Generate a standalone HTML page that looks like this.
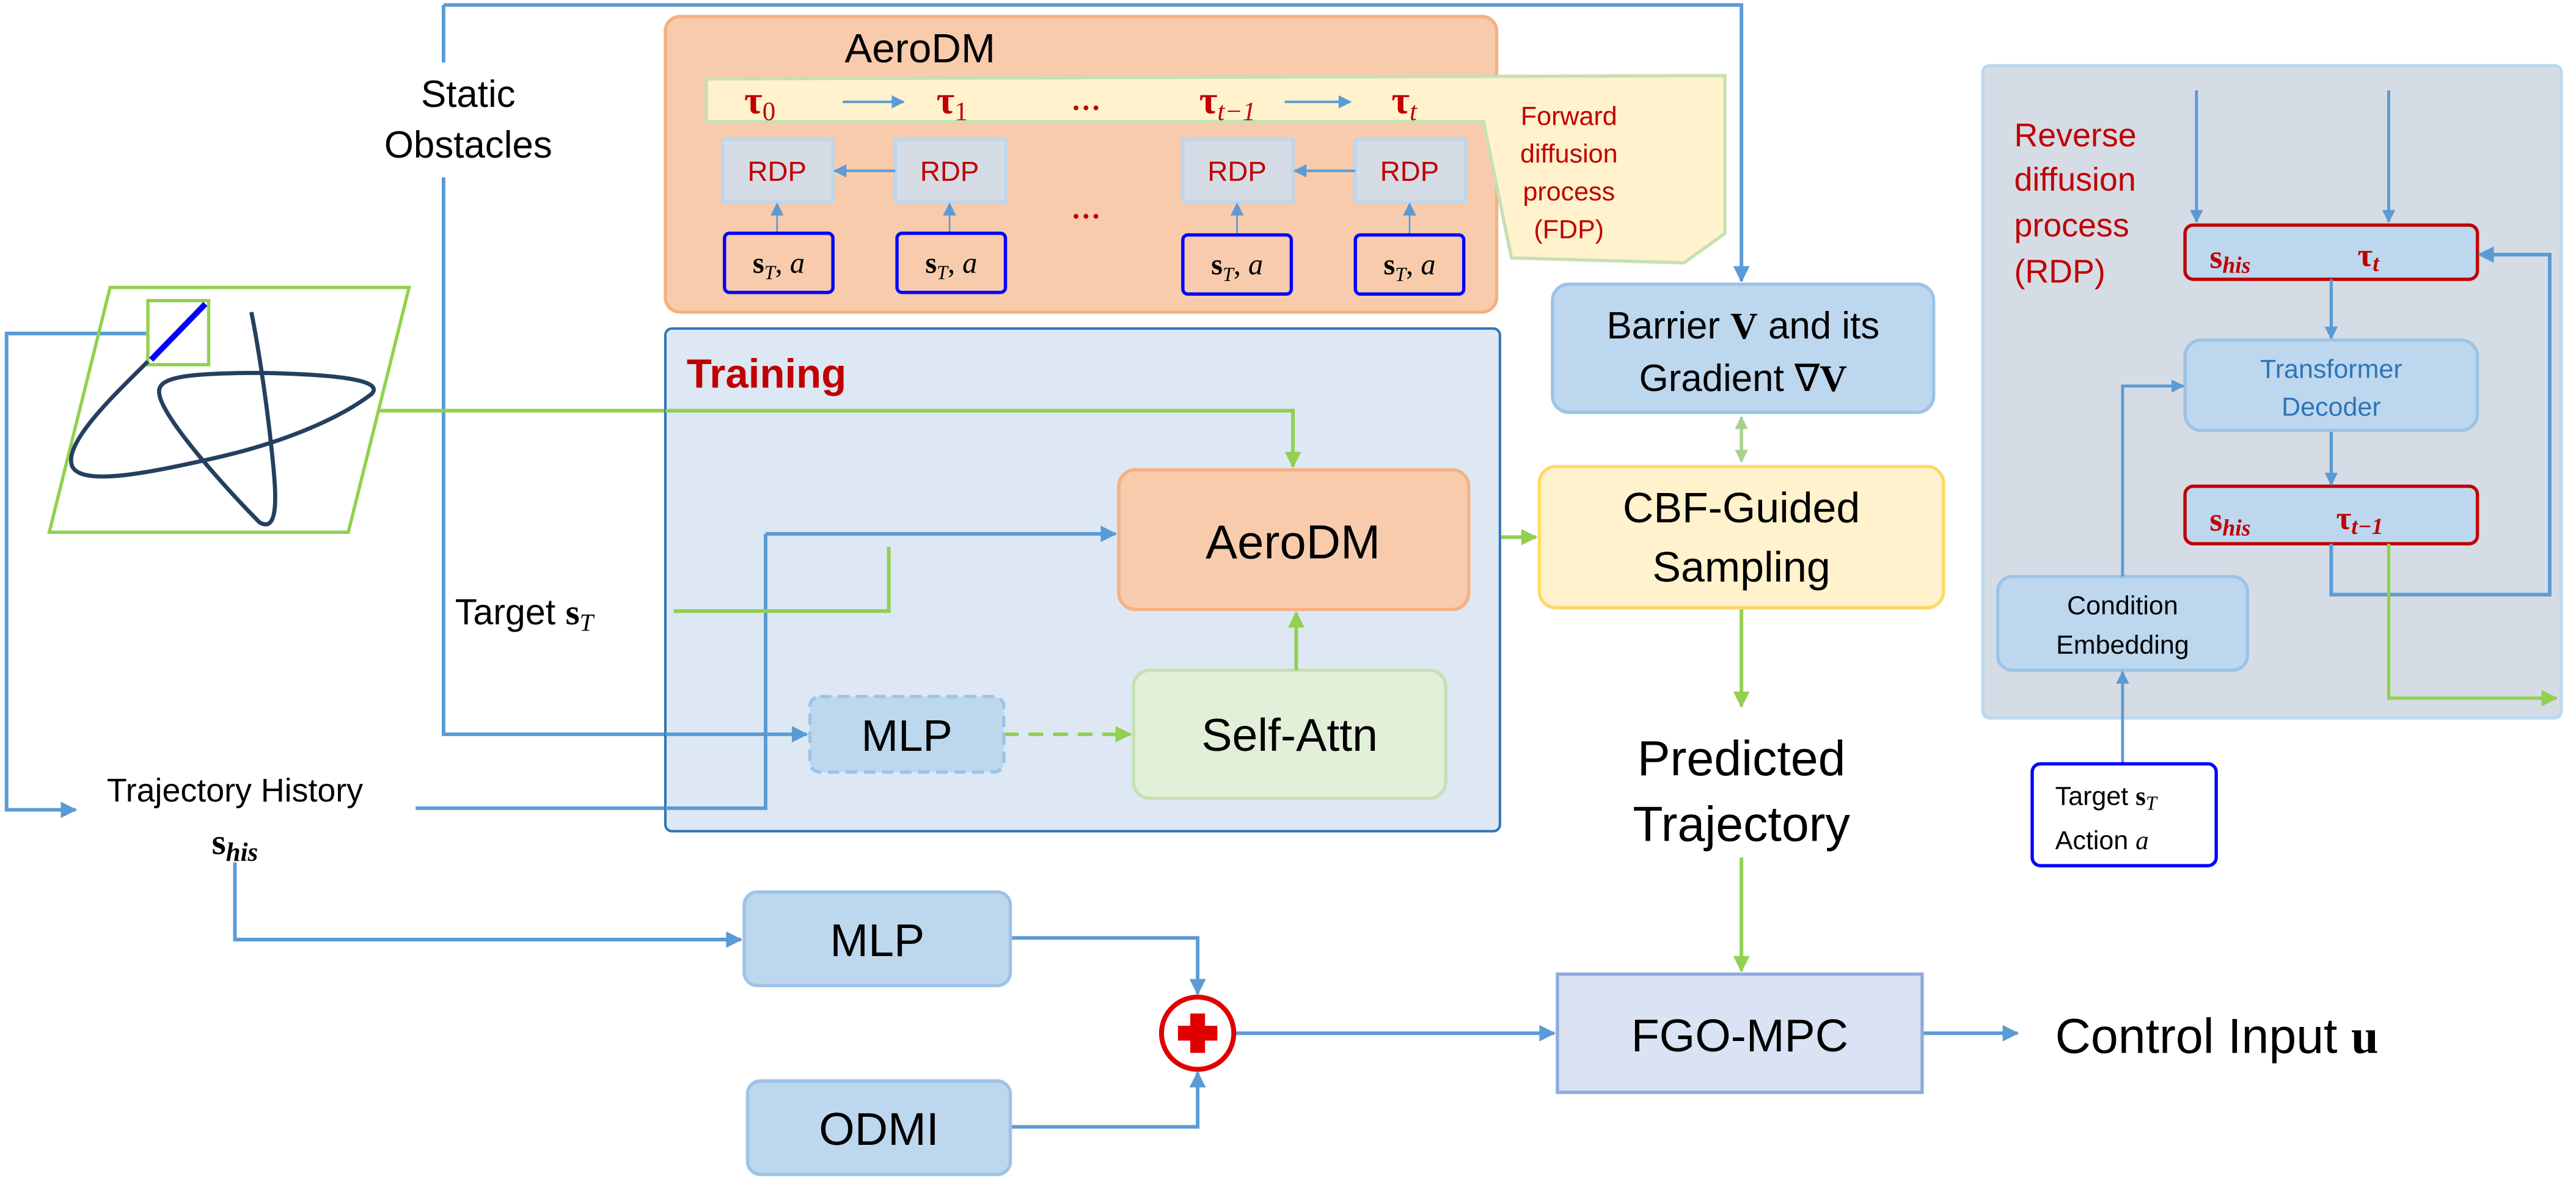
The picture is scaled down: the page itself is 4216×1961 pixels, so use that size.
<!DOCTYPE html>
<html><head><meta charset="utf-8"><style>html,body{margin:0;padding:0;background:#fff}svg{display:block}</style></head><body>
<svg width="4216" height="1961" viewBox="0 0 1568 729.3" xmlns="http://www.w3.org/2000/svg" font-family="Liberation Sans, sans-serif">
<defs>
<marker id="ab" viewBox="0 0 10 10" refX="9" refY="5" markerUnits="userSpaceOnUse" markerWidth="11" markerHeight="10" orient="auto-start-reverse"><path d="M0,0L10,5L0,10z" fill="#5b9bd5"/></marker>
<marker id="as" viewBox="0 0 10 10" refX="9" refY="5" markerUnits="userSpaceOnUse" markerWidth="9" markerHeight="8" orient="auto-start-reverse"><path d="M0,0L10,5L0,10z" fill="#5b9bd5"/></marker>
<marker id="ag" viewBox="0 0 10 10" refX="9" refY="5" markerUnits="userSpaceOnUse" markerWidth="11" markerHeight="10" orient="auto-start-reverse"><path d="M0,0L10,5L0,10z" fill="#92d050"/></marker>
<marker id="alg" viewBox="0 0 10 10" refX="9" refY="5" markerUnits="userSpaceOnUse" markerWidth="9" markerHeight="8" orient="auto-start-reverse"><path d="M0,0L10,5L0,10z" fill="#a9d18e"/></marker>
</defs>
<g fill="none" stroke="#5b9bd5" stroke-width="2.2">
<path d="M270,3H1060V171" marker-end="url(#ab)"/>
<path d="M270,3V38"/>
<path d="M270,108V447H491" marker-end="url(#ab)"/>
<path d="M89,203H4V493H46" marker-end="url(#ab)"/>
<path d="M143,525V572H451" marker-end="url(#ab)"/>
<path d="M615,571H729V605" marker-end="url(#ab)"/>
<path d="M615,686H729V653" marker-end="url(#ab)"/>
<path d="M752,629H946" marker-end="url(#ab)"/>
<path d="M1170,629H1228" marker-end="url(#ab)"/>
<path d="M253,492H405"/>
</g>
<g fill="none" stroke="#92d050" stroke-width="2.2">
<path d="M231,250H405"/>
<path d="M894,327H935" marker-end="url(#ag)"/>
<path d="M1060,370V430" marker-end="url(#ag)"/>
<path d="M1060,522V591" marker-end="url(#ag)"/>
</g>
<path d="M1060,254V281" stroke="#a9d18e" stroke-width="2" marker-start="url(#alg)" marker-end="url(#alg)"/>
<!-- trajectory icon -->
<polygon points="67,175 249,175 212,324 30,324" fill="none" stroke="#92d050" stroke-width="2"/>
<rect x="90" y="183" width="37" height="39" fill="none" stroke="#92d050" stroke-width="2"/>
<path d="M90,220 C70,240 38,270 44,284 C50,296 90,288 130,279 C170,270 205,256 226,240 C234,232 210,228 159,227 C110,227 95,230 97,240 C99,255 140,300 158,318 C170,325 168,300 166,280 C163,250 158,215 153,190" fill="none" stroke="#243f60" stroke-width="2.5"/>
<line x1="92" y1="219" x2="125" y2="185" stroke="#0000ff" stroke-width="3.5"/>
<text x="285" y="65" font-size="23" text-anchor="middle">Static</text>
<text x="285" y="96" font-size="23" text-anchor="middle">Obstacles</text>
<text x="143" y="488" font-size="20" text-anchor="middle">Trajectory History</text>
<text x="143" y="520" font-size="22" text-anchor="middle" font-family="Liberation Serif, serif" font-weight="bold">s<tspan font-size="16" font-style="italic" dy="4">his</tspan></text>
<text x="277" y="380" font-size="22">Target <tspan font-family="Liberation Serif, serif" font-weight="bold">s</tspan><tspan font-family="Liberation Serif, serif" font-style="italic" font-size="15" dy="4">T</tspan></text>
<!-- AeroDM top -->
<rect x="405" y="10" width="506" height="180" rx="9" fill="#f7cbac" stroke="#f4b183" stroke-width="2"/>
<text x="560" y="38" font-size="25" text-anchor="middle">AeroDM</text>
<polygon points="430,48 1050,46 1050,142 1025,160 920,157 903,74 430,74" fill="#fff2cc" stroke="#c5e0b4" stroke-width="2"/>
<g fill="#c00000" font-family="Liberation Serif, serif" font-weight="bold" font-size="24">
<text x="453" y="69">τ<tspan font-size="16" font-weight="normal" dy="4">0</tspan></text>
<text x="570" y="69">τ<tspan font-size="16" font-weight="normal" dy="4">1</tspan></text>
<text x="652" y="67" font-size="18">…</text>
<text x="730" y="69">τ<tspan font-size="16" font-style="italic" font-weight="normal" dy="4">t−1</tspan></text>
<text x="847" y="69">τ<tspan font-size="16" font-style="italic" font-weight="normal" dy="4">t</tspan></text>
<text x="652" y="133" font-size="18">…</text>
</g>
<g stroke="#5b9bd5" stroke-width="1.5">
<path d="M513,62H550" marker-end="url(#as)"/>
<path d="M782,62H822" marker-end="url(#as)"/>
</g>
<text x="955" y="76" font-size="16" fill="#c00000" text-anchor="middle">Forward</text>
<text x="955" y="99" font-size="16" fill="#c00000" text-anchor="middle">diffusion</text>
<text x="955" y="122" font-size="16" fill="#c00000" text-anchor="middle">process</text>
<text x="955" y="145" font-size="16" fill="#c00000" text-anchor="middle">(FDP)</text>
<g>
<rect x="440" y="85" width="67" height="38" fill="#d6dce5" stroke="#bdd7ee" stroke-width="2"/>
<rect x="545" y="85" width="67" height="38" fill="#d6dce5" stroke="#bdd7ee" stroke-width="2"/>
<rect x="720" y="85" width="67" height="38" fill="#d6dce5" stroke="#bdd7ee" stroke-width="2"/>
<rect x="825" y="85" width="67" height="38" fill="#d6dce5" stroke="#bdd7ee" stroke-width="2"/>
<g fill="#c00000" font-size="17" text-anchor="middle"><text x="473" y="110">RDP</text><text x="578" y="110">RDP</text><text x="753" y="110">RDP</text><text x="858" y="110">RDP</text></g>
<g stroke="#5b9bd5" stroke-width="1.5">
<path d="M545,104H508" marker-end="url(#as)"/>
<path d="M825,104H788" marker-end="url(#as)"/>
</g>
<g stroke="#5b9bd5" stroke-width="1">
<path d="M473,142V124" marker-end="url(#as)"/>
<path d="M578,142V124" marker-end="url(#as)"/>
<path d="M753,143V124" marker-end="url(#as)"/>
<path d="M858,143V124" marker-end="url(#as)"/>
</g>
<g fill="none" stroke="#0000ff" stroke-width="2"><rect x="441" y="142" width="66" height="36" rx="3"/><rect x="546" y="142" width="66" height="36" rx="3"/><rect x="720" y="143" width="66" height="36" rx="3"/><rect x="825" y="143" width="66" height="36" rx="3"/></g>
<g font-family="Liberation Serif, serif" font-size="18" text-anchor="middle">
<text x="474" y="166"><tspan font-weight="bold">s</tspan><tspan font-style="italic" font-size="12" dy="4">T</tspan><tspan dy="-4">, </tspan><tspan font-style="italic">a</tspan></text>
<text x="579" y="166"><tspan font-weight="bold">s</tspan><tspan font-style="italic" font-size="12" dy="4">T</tspan><tspan dy="-4">, </tspan><tspan font-style="italic">a</tspan></text>
<text x="753" y="167"><tspan font-weight="bold">s</tspan><tspan font-style="italic" font-size="12" dy="4">T</tspan><tspan dy="-4">, </tspan><tspan font-style="italic">a</tspan></text>
<text x="858" y="167"><tspan font-weight="bold">s</tspan><tspan font-style="italic" font-size="12" dy="4">T</tspan><tspan dy="-4">, </tspan><tspan font-style="italic">a</tspan></text>
</g>
</g>
<!-- Training -->
<rect x="405" y="200" width="508" height="306" rx="4" fill="#dde8f4" stroke="#2e75b6" stroke-width="1.5"/>
<path d="M466,325H679" stroke="#5b9bd5" stroke-width="2.2" marker-end="url(#ab)"/>
<path d="M405,492H466V325" stroke="#5b9bd5" stroke-width="2.2" fill="none"/>
<path d="M405,447H491" stroke="#5b9bd5" stroke-width="2.2" marker-end="url(#ab)"/>
<path d="M410,372H541V333" stroke="#92d050" stroke-width="2.2" fill="none"/>
<path d="M405,250H787V284" stroke="#92d050" stroke-width="2.2" fill="none" marker-end="url(#ag)"/>
<path d="M611,447H688" stroke="#92d050" stroke-width="2.2" stroke-dasharray="9,6" marker-end="url(#ag)"/>
<text x="418" y="236" font-size="25" font-weight="bold" fill="#c00000">Training</text>
<rect x="681" y="286" width="213" height="85" rx="10" fill="#f8cbad" stroke="#f4b183" stroke-width="2"/>
<text x="787" y="340" font-size="29" text-anchor="middle">AeroDM</text>
<rect x="690" y="408" width="190" height="78" rx="10" fill="#e2f0d9" stroke="#c5e0b4" stroke-width="2"/>
<text x="785" y="457" font-size="28" text-anchor="middle">Self-Attn</text>
<path d="M789,408V373" stroke="#92d050" stroke-width="2.2" marker-end="url(#ag)"/>
<rect x="493" y="424" width="118" height="46" rx="6" fill="#bdd7ee" stroke="#9dc3e6" stroke-width="2" stroke-dasharray="7,4"/>
<text x="552" y="457" font-size="27" text-anchor="middle">MLP</text>
<!-- right column -->
<rect x="945" y="173" width="232" height="78" rx="10" fill="#bdd7ee" stroke="#9dc3e6" stroke-width="2"/>
<text x="1061" y="206" font-size="23" text-anchor="middle">Barrier <tspan font-family="Liberation Serif, serif" font-weight="bold">V</tspan> and its</text>
<text x="1061" y="238" font-size="23" text-anchor="middle">Gradient ∇<tspan font-family="Liberation Serif, serif" font-weight="bold">V</tspan></text>
<rect x="937" y="284" width="246" height="86" rx="10" fill="#fff2cc" stroke="#ffd966" stroke-width="2"/>
<text x="1060" y="318" font-size="26" text-anchor="middle">CBF-Guided</text>
<text x="1060" y="354" font-size="26" text-anchor="middle">Sampling</text>
<text x="1060" y="472" font-size="30" text-anchor="middle">Predicted</text>
<text x="1060" y="512" font-size="30" text-anchor="middle">Trajectory</text>
<rect x="948" y="593" width="222" height="72" fill="#dae3f3" stroke="#8faadc" stroke-width="2"/>
<text x="1059" y="640" font-size="28" text-anchor="middle">FGO-MPC</text>
<text x="1251" y="641" font-size="30">Control Input <tspan font-family="Liberation Serif, serif" font-weight="bold">u</tspan></text>
<rect x="453" y="543" width="162" height="57" rx="8" fill="#bdd7ee" stroke="#9dc3e6" stroke-width="2"/>
<text x="534" y="582" font-size="28" text-anchor="middle">MLP</text>
<rect x="455" y="658" width="160" height="57" rx="8" fill="#bdd7ee" stroke="#9dc3e6" stroke-width="2"/>
<text x="535" y="697" font-size="28" text-anchor="middle">ODMI</text>
<circle cx="729" cy="629" r="22" fill="#fff" stroke="#e00000" stroke-width="3"/>
<path d="M717,629H741M729,617V641" stroke="#e00000" stroke-width="9"/>
<!-- RDP panel -->
<rect x="1207" y="40" width="352" height="397" rx="4" fill="#d6dce5" stroke="#bdd7ee" stroke-width="2"/>
<g fill="#c00000" font-size="20"><text x="1226" y="89">Reverse</text><text x="1226" y="116">diffusion</text><text x="1226" y="144">process</text><text x="1226" y="172">(RDP)</text></g>
<g stroke="#5b9bd5" stroke-width="1.8">
<path d="M1337,55V135" marker-end="url(#as)"/>
<path d="M1454,55V135" marker-end="url(#as)"/>
</g>
<rect x="1330" y="137" width="178" height="33" rx="5" fill="#bdd7ee" stroke="#c00000" stroke-width="2"/>
<rect x="1330" y="296" width="178" height="35" rx="5" fill="#bdd7ee" stroke="#c00000" stroke-width="2"/>
<g fill="#c00000" font-family="Liberation Serif, serif" font-size="20" font-weight="bold">
<text x="1345" y="163">s<tspan font-size="14" font-style="italic" dy="3">his</tspan></text>
<text x="1435" y="162">τ<tspan font-size="14" font-style="italic" dy="3">t</tspan></text>
<text x="1345" y="323">s<tspan font-size="14" font-style="italic" dy="3">his</tspan></text>
<text x="1422" y="322">τ<tspan font-size="14" font-style="italic" dy="3">t−1</tspan></text>
</g>
<g stroke="#5b9bd5" stroke-width="2">
<path d="M1419,170V206" marker-end="url(#as)"/>
<path d="M1419,262V295" marker-end="url(#as)"/>
</g>
<rect x="1330" y="207" width="178" height="55" rx="10" fill="#bdd7ee" stroke="#9dc3e6" stroke-width="2"/>
<text x="1419" y="230" font-size="16" fill="#2e75b6" text-anchor="middle">Transformer</text>
<text x="1419" y="253" font-size="16" fill="#2e75b6" text-anchor="middle">Decoder</text>
<path d="M1419,331V362H1552V155H1509" fill="none" stroke="#5b9bd5" stroke-width="2.2" marker-end="url(#ab)"/>
<path d="M1454,331V425H1556" fill="none" stroke="#92d050" stroke-width="2" marker-end="url(#ag)"/>
<rect x="1216" y="351" width="152" height="57" rx="9" fill="#bdd7ee" stroke="#9dc3e6" stroke-width="2"/>
<text x="1292" y="374" font-size="16" text-anchor="middle">Condition</text>
<text x="1292" y="398" font-size="16" text-anchor="middle">Embedding</text>
<path d="M1292,351V235H1329" fill="none" stroke="#5b9bd5" stroke-width="1.8" marker-end="url(#as)"/>
<path d="M1292,465V409" stroke="#5b9bd5" stroke-width="1.8" marker-end="url(#as)"/>
<rect x="1237" y="465" width="112" height="62" rx="5" fill="#fff" stroke="#0000ff" stroke-width="2"/>
<text x="1251" y="490" font-size="16">Target <tspan font-family="Liberation Serif, serif" font-weight="bold">s</tspan><tspan font-family="Liberation Serif, serif" font-style="italic" font-size="12" dy="3">T</tspan></text>
<text x="1251" y="517" font-size="16">Action <tspan font-family="Liberation Serif, serif" font-style="italic">a</tspan></text>
</svg>
</body></html>
